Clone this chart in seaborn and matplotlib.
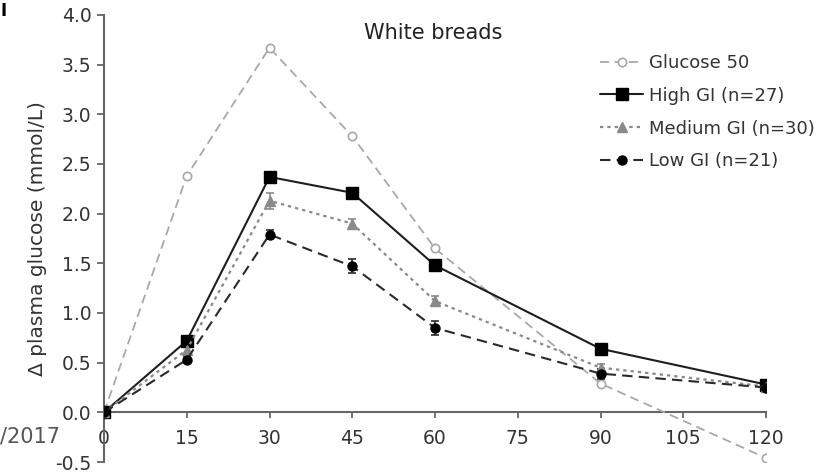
import numpy as np
import pandas as pd
import matplotlib
matplotlib.use("Agg")
import matplotlib.pyplot as plt
import seaborn as sns

# Time after the meal (min)
minutes = [0, 15, 30, 45, 60, 90, 120]

# Mean change in plasma glucose (mmol/L)
glucose50 = [0.0, 2.38, 3.67, 2.78, 1.65, 0.29, -0.46]
high_gi = [0.0, 0.72, 2.37, 2.21, 1.48, 0.64, 0.28]
medium_gi = [0.0, 0.63, 2.13, 1.90, 1.12, 0.45, 0.26]
low_gi = [0.0, 0.53, 1.79, 1.47, 0.85, 0.39, 0.25]

# Standard errors shown on the bread curves
high_se = [0.0, 0.03, 0.04, 0.04, 0.04, 0.03, 0.03]
medium_se = [0.0, 0.04, 0.08, 0.05, 0.05, 0.04, 0.03]
low_se = [0.0, 0.03, 0.05, 0.07, 0.07, 0.05, 0.03]

labels = ["Glucose 50", "High GI (n=27)", "Medium GI (n=30)", "Low GI (n=21)"]
x_ticks = [0, 15, 30, 45, 60, 75, 90, 105, 120]
y_ticks = [-0.5, 0.0, 0.5, 1.0, 1.5, 2.0, 2.5, 3.0, 3.5, 4.0]

sns.set_style("ticks")
plt.rcParams["font.family"] = ["DejaVu Sans"]

fig = plt.figure(figsize=(8.27, 4.72), dpi=100)
ax = fig.add_axes([104 / 827, 1 - 462 / 472, (766 - 104) / 827, (462 - 15) / 472])

df = pd.DataFrame({
    "minutes": minutes * 4,
    "value": glucose50 + high_gi + medium_gi + low_gi,
    "series": np.repeat(labels, len(minutes)),
})

styles = {
    labels[0]: dict(color="#a8a8a8", ls=(0, (5, 3)), marker="o", mfc="white",
                    mec="#a8a8a8", ms=6, mew=1.2, lw=1.3),
    labels[1]: dict(color="#1e1e1e", ls="-", marker="s", mfc="black",
                    mec="black", ms=8, mew=1, lw=1.5),
    labels[2]: dict(color="#8a8a8a", ls=(0, (1.5, 1.8)), marker="^", mfc="#8a8a8a",
                    mec="#8a8a8a", ms=6.5, mew=1, lw=1.6),
    labels[3]: dict(color="#2a2a2a", ls=(0, (5, 3)), marker="o", mfc="black",
                    mec="black", ms=6.5, mew=1, lw=1.5),
}
errors = {labels[1]: high_se, labels[2]: medium_se, labels[3]: low_se}

for lab in labels:
    st = styles[lab]
    sub = df[df["series"] == lab]
    if lab in errors:
        ax.errorbar(sub["minutes"], sub["value"], yerr=errors[lab], fmt="none",
                    ecolor=st["color"], elinewidth=1.2, capsize=3, capthick=1.2, zorder=2)
    sns.lineplot(data=sub, x="minutes", y="value", ax=ax, color=st["color"],
                 linestyle=st["ls"], linewidth=st["lw"], marker=st["marker"],
                 markersize=st["ms"], markerfacecolor=st["mfc"],
                 markeredgecolor=st["mec"], markeredgewidth=st["mew"],
                 label=lab, zorder=3, legend=False)

ax.set_xlim(0, 120)
ax.set_ylim(-0.5, 4.0)
ax.set_xticks(x_ticks)
ax.set_xticklabels([str(t) for t in x_ticks])
ax.set_yticks(y_ticks)
ax.set_yticklabels([f"{t:.1f}" for t in y_ticks])
ax.set_xlabel("")
ax.set_ylabel("Δ plasma glucose (mmol/L)", fontsize=14.5, color="#333333", labelpad=6)

for side in ["top", "right"]:
    ax.spines[side].set_visible(False)
ax.spines["bottom"].set_position(("data", 0))
for side in ["left", "bottom"]:
    ax.spines[side].set_color("#666666")
    ax.spines[side].set_linewidth(1.5)
ax.spines["left"].set_zorder(1)

ax.tick_params(axis="y", direction="out", length=5, width=1.3, color="#666666",
               labelsize=13.5, labelcolor="#333333", pad=4)
ax.tick_params(axis="x", direction="out", length=4, width=1.3, color="#666666",
               labelsize=13.5, labelcolor="#333333", pad=8)

ax.text(0.497, 0.96, "White breads", transform=ax.transAxes, ha="center",
        va="center", fontsize=15, color="#222222")

handles = []
for lab in labels:
    st = styles[lab]
    (h,) = ax.plot([], [], color=st["color"], linestyle=st["ls"], linewidth=st["lw"],
                   marker=st["marker"], markersize=st["ms"], markerfacecolor=st["mfc"],
                   markeredgecolor=st["mec"], markeredgewidth=st["mew"])
    handles.append(h)
leg = fig.legend(handles, labels, loc="upper left", bbox_to_anchor=(600 / 827, 1 - 54 / 472),
                 frameon=False, fontsize=13, handlelength=2.4, handletextpad=0.3,
                 labelspacing=0.82, borderpad=0, borderaxespad=0)
for t in leg.get_texts():
    t.set_color("#333333")

# Fragments at the figure edges
fig.text(0.001, 0.996, "I", fontsize=12, fontweight="bold", ha="left", va="top", color="black")
fig.text(0.0, 1 - 437 / 472, "/2017", fontsize=15, ha="left", va="center", color="#555555")

fig.savefig("out.png", dpi=100)
